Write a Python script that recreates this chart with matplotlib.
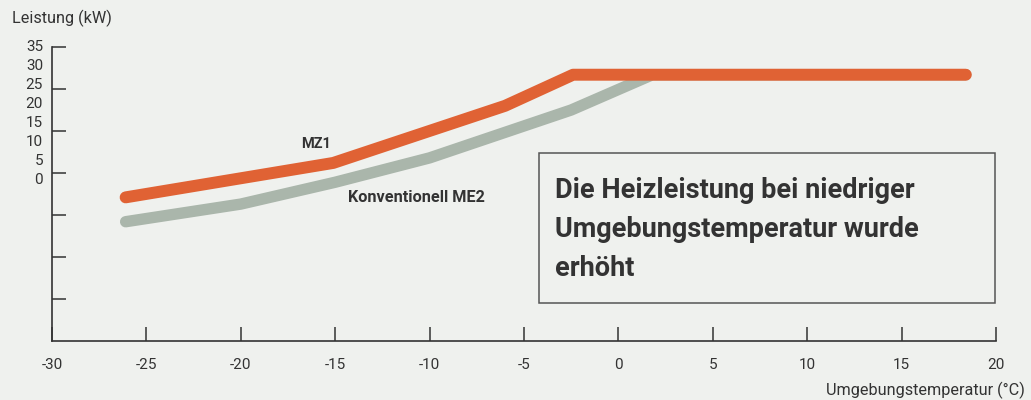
import matplotlib.pyplot as plt
from matplotlib.patches import Rectangle

# ambient temperature (°C) vs heating capacity (kW)
mz1_temp = [-26.1, -15.1, -6.0, -2.4, 18.4]
mz1_kw = [17.1, 21.2, 28.0, 31.7, 31.7]
me2_temp = [-26.1, -20.0, -15.0, -10.0, -2.5, 1.8, 18.4]
me2_kw = [14.2, 16.3, 18.9, 21.8, 27.5, 31.7, 31.7]

x_ticks = [-30, -25, -20, -15, -10, -5, 0, 5, 10, 15, 20]
y_ticks = [5, 10, 15, 20, 25, 30, 35]
y_labels = ['35', '30', '25', '20', '15', '10', '5', '0']
box_lines = ['Die Heizleistung bei niedriger', 'Umgebungstemperatur wurde',
             'erhöht']

bg = '#eff1ee'
orange = '#e06234'
grey = '#aab6ab'
dark = '#333333'

plt.rcParams['font.family'] = ['Roboto', 'DejaVu Sans']

fig = plt.figure(figsize=(10.31, 4), dpi=100, facecolor=bg)
ax = fig.add_axes([52 / 1031, 59 / 400, 944 / 1031, 294 / 400])
ax.set_facecolor(bg)

ax.plot(me2_temp, me2_kw, color=grey, lw=8.2, solid_capstyle='round',
        solid_joinstyle='round')
ax.plot(mz1_temp, mz1_kw, color=orange, lw=8.6, solid_capstyle='round',
        solid_joinstyle='round')

ax.set_xlim(-30, 20)
ax.set_ylim(0, 35)
ax.set_xticks(x_ticks)
ax.set_xticklabels([str(t) for t in x_ticks])
ax.set_yticks(y_ticks)
ax.set_yticklabels([])
ax.tick_params(direction='in', length=10, width=1.1, color=dark,
               labelsize=11, labelcolor=dark, pad=12)
for s in ['top', 'right']:
    ax.spines[s].set_visible(False)
for s in ['left', 'bottom']:
    ax.spines[s].set_color(dark)
    ax.spines[s].set_linewidth(1.2)

# y labels as drawn in the original (stacked at the top)
for i, lab in enumerate(y_labels):
    fig.text(43 / 1031, 1 - (47 + 19 * i) / 400, lab, ha='right', va='center',
             fontsize=11, color=dark)

fig.text(12 / 1031, 1 - 18 / 400, 'Leistung (kW)', ha='left', va='center',
         fontsize=11.7, color=dark)
fig.text(1025 / 1031, 1 - 390 / 400, 'Umgebungstemperatur (°C)', ha='right',
         va='center', fontsize=11.7, color=dark)

ax.text(-16.0, 23.5, 'MZ1', ha='center', va='center', fontsize=10.5,
        fontweight='bold', color=dark)
ax.text(-10.7, 17.1, 'Konventionell ME2', ha='center', va='center',
        fontsize=11.7, fontweight='bold', color=dark)

ax.add_patch(Rectangle((0.516, 0.129), 0.483, 0.510, transform=ax.transAxes,
                       fill=False, edgecolor='#555555', lw=1.1, clip_on=False))
for i, line in enumerate(box_lines):
    fig.text(555 / 1031, 1 - (191 + 39 * i) / 400, line, ha='left',
             va='center', fontsize=19.5, fontweight='bold', color=dark)

fig.savefig('out.png', dpi=100, facecolor=bg)
